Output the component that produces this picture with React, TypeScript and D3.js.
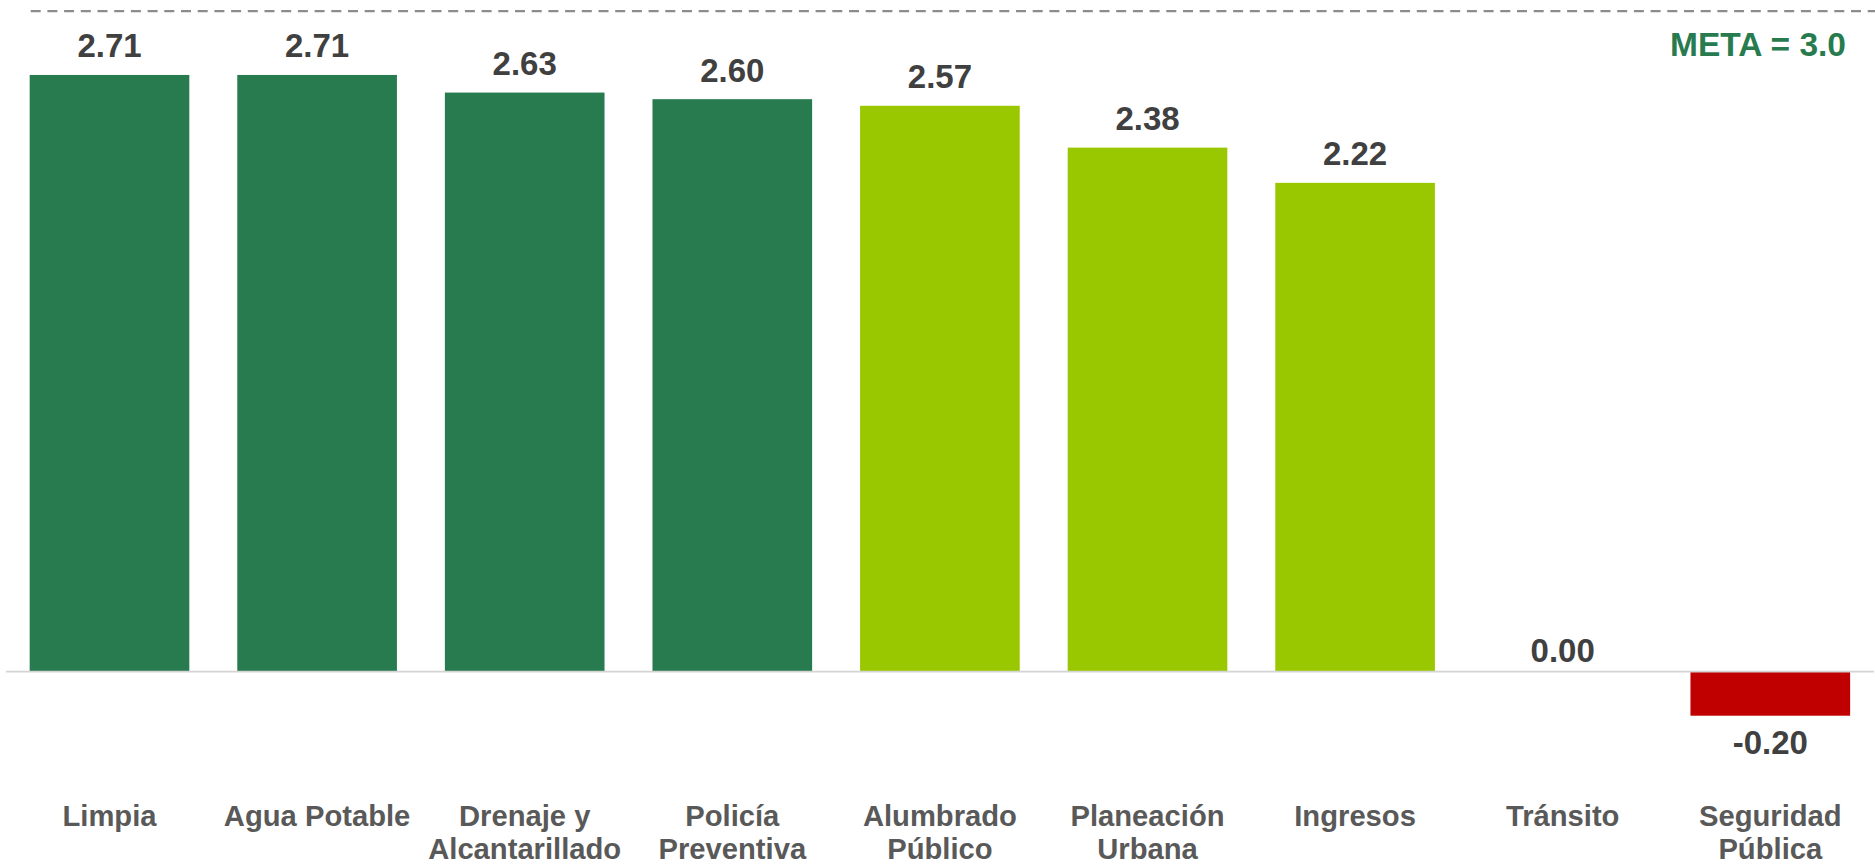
import React from "react";
import * as d3 from "d3";

const categories: string[] = [
  "Limpia",
  "Agua Potable",
  "Drenaje y\nAlcantarillado",
  "Policía\nPreventiva",
  "Alumbrado\nPúblico",
  "Planeación\nUrbana",
  "Ingresos",
  "Tránsito",
  "Seguridad\nPública",
];
const values: number[] = [2.71, 2.71, 2.63, 2.6, 2.57, 2.38, 2.22, 0.0, -0.2];
const meta = 3.0;
const metaLabel = "META = 3.0";
const yDomain: [number, number] = [-0.2, 3.0];

const W = 1875;
const H = 865;
const FONT = "'Liberation Sans', Arial, Helvetica, sans-serif";
const DARK = "#277B4F";
const LIGHT = "#99C800";
const RED = "#C00000";

const fmt = (v: number) => d3.format(".2f")(v).replace("\u2212", "-");

export default function App() {
  const x = d3
    .scaleBand<number>()
    .domain(d3.range(categories.length))
    .range([5.7, 1874.1])
    .paddingInner(0.231)
    .paddingOuter(0.1155);
  const y = d3.scaleLinear().domain(yDomain).range([715.7, 11.1]);
  const color = d3
    .scaleThreshold<number, string>()
    .domain([0, 2.6])
    .range([RED, LIGHT, DARK]);

  const y0 = y(0);

  return (
    <svg
      width={W}
      height={H}
      style={{ position: "absolute", left: 0, top: 0, background: "#fff" }}
    >
      <line
        x1={30.7}
        x2={W}
        y1={y(meta)}
        y2={y(meta)}
        stroke="#8c8c8c"
        strokeWidth={2.2}
        strokeDasharray="10 6.7"
      />
      <text
        x={1846}
        y={55.7}
        textAnchor="end"
        fontFamily={FONT}
        fontWeight="bold"
        fontSize={33.5}
        fill={DARK}
      >
        {metaLabel}
      </text>
      {values.map((v, i) => {
        const bx = x(i)!;
        const top = Math.min(y(v), y0);
        const h = Math.abs(y(v) - y0);
        return (
          <rect
            key={"b" + i}
            x={bx}
            y={top}
            width={x.bandwidth()}
            height={h}
            fill={color(v)}
          />
        );
      })}
      <line
        x1={6}
        x2={1874}
        y1={y0}
        y2={y0}
        stroke="#d4d4d4"
        strokeWidth={1.6}
      />
      {values.map((v, i) => {
        const cx = x(i)! + x.bandwidth() / 2;
        let ty: number;
        if (v < 0) ty = y(v) + 38.6;
        else if (v === 0) ty = y(v) - 10;
        else ty = y(v) - 17.5;
        return (
          <text
            key={"v" + i}
            x={cx}
            y={ty}
            textAnchor="middle"
            fontFamily={FONT}
            fontWeight="bold"
            fontSize={33}
            fill="#404040"
          >
            {fmt(v)}
          </text>
        );
      })}
      {categories.map((c, i) => {
        const cx = x(i)! + x.bandwidth() / 2;
        const lines = c.split("\n");
        return (
          <text
            key={"c" + i}
            x={cx}
            y={825.8}
            textAnchor="middle"
            fontFamily={FONT}
            fontWeight="bold"
            fontSize={29.2}
            fill="#595959"
          >
            {lines.map((l, j) => (
              <tspan key={j} x={cx} dy={j === 0 ? 0 : 33}>
                {l}
              </tspan>
            ))}
          </text>
        );
      })}
    </svg>
  );
}
